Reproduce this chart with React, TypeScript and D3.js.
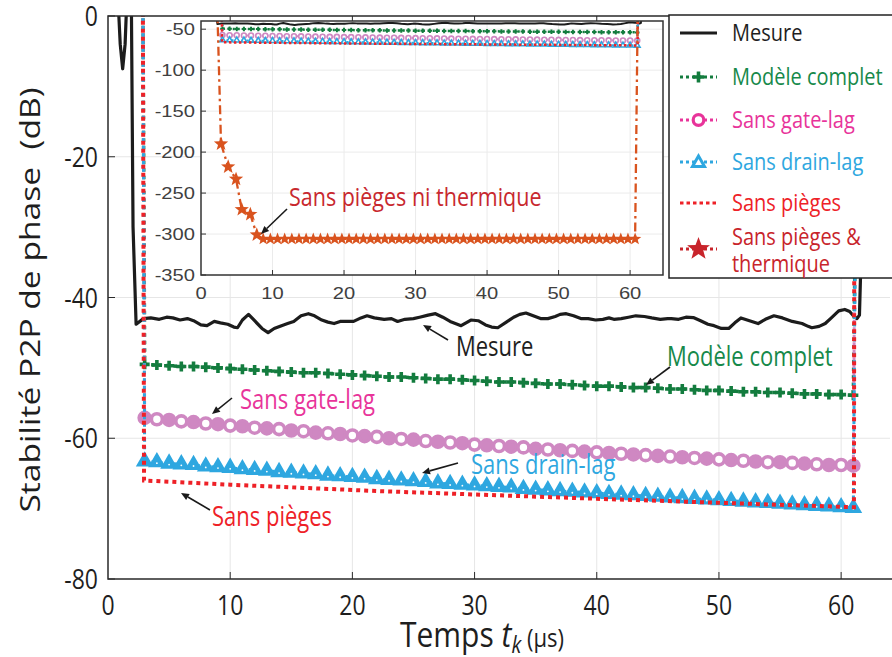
import React from 'react';
import * as d3 from 'd3';

const W = 892, H = 657;

const MAIN_X_TICKS = [0, 10, 20, 30, 40, 50, 60];
const MAIN_Y_TICKS = [0, -20, -40, -60, -80];
const INSET_X_TICKS = [0, 10, 20, 30, 40, 50, 60];
const INSET_Y_TICKS = [-50, -100, -150, -200, -250, -300, -350];

// Mesure: [t (µs), dB]
const MESURE: [number, number][] = [
  [0.75, 5], [1.0, -4], [1.2, -7.5], [1.4, -4], [1.6, 5], [1.9, 5], [2.05, -30], [2.3, -43.8],
  [2.9, -43.0], [3.5, -42.9], [4.2, -43.1], [4.8, -42.8], [5.3, -42.9], [5.9, -43.2], [6.5, -43.0],
  [7.0, -43.3], [7.6, -43.9], [8.1, -44.0], [8.7, -43.4], [9.2, -43.6], [9.8, -43.8], [10.3, -44.2],
  [10.6, -44.3], [11.0, -43.2], [11.5, -42.4], [12.0, -43.3], [12.6, -44.4], [13.1, -45.0], [13.6, -44.4],
  [14.2, -44.0], [14.7, -43.7], [15.2, -43.4], [15.8, -42.6], [16.4, -42.3], [16.9, -42.6], [17.5, -43.2],
  [18.0, -43.5], [18.5, -43.7], [19.0, -43.4], [19.6, -43.4], [20.1, -43.4], [20.7, -42.9], [21.2, -42.6],
  [21.8, -42.9], [22.6, -43.1], [23.2, -43.0], [23.7, -43.4], [24.3, -43.1], [25.0, -43.0], [25.5, -42.8],
  [26.2, -42.5], [26.8, -42.3], [27.4, -42.8], [28.0, -43.4], [28.9, -44.0], [29.3, -43.6], [29.7, -43.2],
  [30.3, -43.3], [30.9, -43.9], [31.4, -44.2], [31.9, -44.3], [32.6, -43.5], [33.2, -42.8], [33.7, -42.4],
  [34.2, -42.2], [34.8, -42.6], [35.4, -43.0], [36.0, -43.0], [36.6, -42.7], [37.0, -42.4], [37.5, -42.3],
  [38.1, -42.6], [38.7, -43.0], [39.3, -43.0], [39.9, -43.2], [40.5, -43.1], [41.0, -42.9], [41.4, -43.1],
  [42.0, -43.0], [42.6, -42.8], [43.2, -42.6], [43.9, -42.7], [44.5, -42.9], [45.2, -43.1], [45.8, -43.0],
  [46.1, -43.0], [46.7, -43.1], [47.3, -42.8], [47.9, -42.85], [48.5, -43.3], [49.1, -43.8], [49.6, -44.0],
  [50.2, -44.4], [50.8, -44.4], [51.3, -43.6], [51.8, -42.9], [52.5, -43.3], [53.2, -43.7], [53.8, -43.1],
  [54.5, -42.6], [55.2, -42.9], [56.0, -43.4], [56.8, -43.7], [57.3, -44.1], [57.6, -44.3], [58.2, -44.1],
  [58.7, -43.7], [59.2, -42.9], [59.8, -41.9], [60.3, -41.7], [60.7, -42.0], [61.0, -42.6], [61.3, -43.0],
  [61.5, -42.5], [61.7, -30], [61.8, 5],
];

// model series sampled at these instants (µs)
const MODEL_T = [3, 4, 5, 6, 7, 8, 9, 10, 11, 12, 13, 14, 15, 16, 17, 18, 19, 20, 21, 22, 23, 24, 25, 26, 27, 28, 29, 30,
  31, 32, 33, 34, 35, 36, 37, 38, 39, 40, 41, 42, 43, 44, 45, 46, 47, 48, 49, 50, 51, 52, 53, 54, 55, 56, 57, 58, 59, 60, 61];

const COMPLET_V = [-49.5, -49.6, -49.7, -49.8, -49.8, -49.9, -50.0, -50.1, -50.2, -50.3, -50.4, -50.5, -50.6, -50.7,
  -50.7, -50.8, -50.9, -51.0, -51.1, -51.2, -51.3, -51.3, -51.4, -51.5, -51.6, -51.6, -51.7, -51.8, -51.9, -52.0,
  -52.0, -52.1, -52.2, -52.3, -52.3, -52.4, -52.5, -52.6, -52.6, -52.7, -52.8, -52.8, -52.9, -53.0, -53.0, -53.1,
  -53.2, -53.2, -53.3, -53.4, -53.4, -53.5, -53.5, -53.6, -53.7, -53.7, -53.8, -53.8, -53.9];

const GATE_V = [-57.1, -57.3, -57.4, -57.6, -57.7, -57.9, -58.0, -58.2, -58.3, -58.5, -58.6, -58.7, -58.9, -59.0,
  -59.2, -59.3, -59.4, -59.6, -59.7, -59.8, -60.0, -60.1, -60.2, -60.4, -60.5, -60.6, -60.7, -60.9, -61.0, -61.1,
  -61.2, -61.3, -61.5, -61.6, -61.7, -61.8, -61.9, -62.0, -62.1, -62.2, -62.3, -62.4, -62.5, -62.6, -62.7, -62.8,
  -62.9, -63.0, -63.1, -63.2, -63.3, -63.4, -63.4, -63.5, -63.6, -63.7, -63.8, -63.8, -63.9];

const DRAIN_V = [-63.3, -63.4, -63.6, -63.7, -63.8, -64.0, -64.1, -64.2, -64.4, -64.5, -64.6, -64.8, -64.9, -65.0,
  -65.1, -65.3, -65.4, -65.5, -65.6, -65.8, -65.9, -66.0, -66.1, -66.2, -66.4, -66.5, -66.6, -66.7, -66.8, -66.9,
  -67.0, -67.2, -67.3, -67.4, -67.5, -67.6, -67.7, -67.8, -67.9, -68.0, -68.1, -68.2, -68.3, -68.4, -68.5, -68.6,
  -68.7, -68.8, -68.9, -69.0, -69.1, -69.2, -69.3, -69.4, -69.5, -69.6, -69.7, -69.8, -69.9];

// off-scale entry / exit of the model traces (start and end of the pulse)
const LEAD_T = 2.85;
const OFF_V = 5;
const COMPLET_END_T = 61.4;
const GATE_END_T = 61.25;
const DRAIN_END_T = 61.3;

const PIEGES_T = [2.85, 2.95, 10, 22, 40, 61.05, 61.1];
const PIEGES_V = [5, -66.0, -66.6, -67.5, -68.6, -69.8, 5];

const THERM_T = [2.2, 2.8, 3.8, 4.9, 5.7, 6.9, 7.8,
  8.7, 9.7, 10.7, 11.7, 12.7, 13.7, 14.7, 15.7, 16.7, 17.7, 18.7, 19.7, 20.7, 21.7, 22.7, 23.7, 24.7, 25.7, 26.7,
  27.7, 28.7, 29.7, 30.7, 31.7, 32.7, 33.7, 34.7, 35.7, 36.7, 37.7, 38.7, 39.7, 40.7, 41.7, 42.7, 43.7, 44.7, 45.7,
  46.7, 47.7, 48.7, 49.7, 50.7, 51.7, 52.7, 53.7, 54.7, 55.7, 56.7, 57.7, 58.7, 59.7, 60.7, 61.1];
const THERM_V = [0, -190, -218, -233, -270, -276, -301,
  -306, -306, -306, -306, -306, -306, -306, -306, -306, -306, -306, -306, -306, -306, -306, -306, -306, -306, -306,
  -306, -306, -306, -306, -306, -306, -306, -306, -306, -306, -306, -306, -306, -306, -306, -306, -306, -306, -306,
  -306, -306, -306, -306, -306, -306, -306, -306, -306, -306, -306, -306, -306, -306, -306, 0];

const LEGEND = ['Mesure', 'Modèle complet', 'Sans gate-lag', 'Sans drain-lag', 'Sans pièges'];

const C_MES = '#1c1c1c';
const C_GREEN = '#137c3e';
const C_GREEN_T = '#16894a';
const C_PINK = '#cf88c2';
const C_PINK_T = '#e8349a';
const C_BLUE = '#2ea7e0';
const C_RED = '#ee2127';
const C_STAR = '#d9531e';
const C_STAR_L = '#c8242b';

const FONT = "'Open Sans', 'Noto Sans', sans-serif";
const AX_FONT = "'Liberation Sans', Arial, sans-serif";

type Pt = [number, number];

function zipPts(ts: number[], vs: number[]): Pt[] {
  return ts.map((t, i) => [t, vs[i]] as Pt);
}

function plusPath(cx: number, cy: number, a: number) {
  return `M${cx - a},${cy}H${cx + a}M${cx},${cy - a}V${cy + a}`;
}
function triPath(cx: number, cy: number, s: number) {
  const h = s * 0.866;
  return `M${cx},${cy - (2 * h) / 3}L${cx - s / 2},${cy + h / 3}L${cx + s / 2},${cy + h / 3}Z`;
}
function starPath(cx: number, cy: number, R: number) {
  const r = R * 0.42;
  const pts: string[] = [];
  for (let i = 0; i < 10; i++) {
    const ang = -Math.PI / 2 + (i * Math.PI) / 5;
    const rr = i % 2 === 0 ? R : r;
    pts.push(`${cx + rr * Math.cos(ang)},${cy + rr * Math.sin(ang)}`);
  }
  return 'M' + pts.join('L') + 'Z';
}

function T(props: {
  x: number; y: number; size: number; fill?: string; anchor?: string; sx?: number; sy?: number;
  family?: string; children: React.ReactNode;
}) {
  const { x, y, size, fill = '#222', anchor = 'start', sx = 1, sy = 1.2, family = FONT, children } = props;
  return (
    <text transform={`translate(${x},${y}) scale(${sx},${sy})`} fontSize={size} fill={fill}
      textAnchor={anchor} fontFamily={family}>{children}</text>
  );
}

function Arrow({ x1, y1, x2, y2 }: { x1: number; y1: number; x2: number; y2: number }) {
  const ang = Math.atan2(y2 - y1, x2 - x1);
  const L = 8, Wd = 3.5;
  const bx = x2 - L * Math.cos(ang), by = y2 - L * Math.sin(ang);
  const px = -Math.sin(ang) * Wd, py = Math.cos(ang) * Wd;
  return (
    <g>
      <line x1={x1} y1={y1} x2={bx} y2={by} stroke="#1a1a1a" strokeWidth={1.6} />
      <path d={`M${x2},${y2}L${bx + px},${by + py}L${bx - px},${by - py}Z`} fill="#1a1a1a" />
    </g>
  );
}

function Series({ x, y, inset }: { x: d3.ScaleLinear<number, number>; y: d3.ScaleLinear<number, number>; inset: boolean }) {
  const line = d3.line<Pt>().x(d => x(d[0])).y(d => y(d[1]));
  const k = inset ? 0.45 : 1;
  const mes = MESURE;
  const complet = [[LEAD_T, OFF_V] as Pt, ...zipPts(MODEL_T, COMPLET_V), [COMPLET_END_T, OFF_V] as Pt];
  const gate = [[LEAD_T, OFF_V] as Pt, ...zipPts(MODEL_T, GATE_V), [GATE_END_T, OFF_V] as Pt];
  const drain = [[LEAD_T, OFF_V] as Pt, ...zipPts(MODEL_T, DRAIN_V), [DRAIN_END_T, OFF_V] as Pt];
  const pieges = zipPts(PIEGES_T, PIEGES_V);
  const therm = zipPts(THERM_T, THERM_V);
  return (
    <g>
      <path d={line(mes) || ''} fill="none" stroke={C_MES} strokeWidth={inset ? 2 : 3.2} strokeLinejoin="round" />
      <path d={line(complet) || ''} fill="none" stroke={C_GREEN} strokeWidth={inset ? 2.5 : 3.5}
        strokeDasharray={inset ? '2,3' : '3.5,4'} />
      {MODEL_T.map((t, i) => (
        <path key={'c' + i} d={plusPath(x(t), y(COMPLET_V[i]), 5 * k)} stroke={C_GREEN}
          strokeWidth={inset ? 2 : 3.6} />
      ))}
      <path d={line(gate) || ''} fill="none" stroke={C_PINK} strokeWidth={inset ? 2 : 3}
        strokeDasharray={inset ? '2,3' : '3.5,4'} />
      {MODEL_T.map((t, i) => (
        <circle key={'g' + i} cx={x(t)} cy={y(GATE_V[i])} r={5.5 * k} fill={i % 2 === 0 && !inset ? C_PINK : '#fff'}
          stroke={C_PINK} strokeWidth={inset ? 1.6 : 3.6} />
      ))}
      <path d={line(drain) || ''} fill="none" stroke={C_BLUE} strokeWidth={inset ? 2 : 3}
        strokeDasharray={inset ? '2,3' : '3.5,4'} />
      {MODEL_T.map((t, i) => (
        <path key={'d' + i} d={triPath(x(t), y(DRAIN_V[i]), 12.5 * k)} fill={inset ? '#fff' : C_BLUE} stroke={C_BLUE}
          strokeWidth={inset ? 1.6 : 3} strokeLinejoin="miter" />
      ))}
      {!inset && MODEL_T.map((t, i) => (
        <circle key={'dw' + i} cx={x(t)} cy={y(DRAIN_V[i]) + 1} r={0.9} fill="#fff" />
      ))}
      <path d={line(pieges) || ''} fill="none" stroke={C_RED} strokeWidth={inset ? 2.5 : 4}
        strokeDasharray={inset ? '2.5,2.5' : '4,4'} />
      {inset && (
        <g>
          <path d={line(therm) || ''} fill="none" stroke={C_STAR} strokeWidth={2.3} strokeDasharray="9,4,2.5,4" />
          {THERM_T.map((t, i) => (i === 0 || i === THERM_T.length - 1 ? null : (
            <path key={'s' + i} d={starPath(x(t), y(THERM_V[i]), i < 7 ? 7.5 : 6.5)} fill={C_STAR} />
          )))}
        </g>
      )}
    </g>
  );
}

export default function App() {
  const ML = 108, MR = 890, MT = 16, MB = 579;
  const x = d3.scaleLinear().domain([0, 64]).range([ML, MR]);
  const y = d3.scaleLinear().domain([-80, 0]).range([MB, MT]);

  const IL = 201, IR = 663, IT = 21, IB = 275;
  const xi = d3.scaleLinear().domain([0, 64.6]).range([IL, IR]);
  const yi = d3.scaleLinear().domain([-350, -40]).range([IB, IT]);

  const grid = '#e6e6e6';
  const axc = '#2a2a2a';

  const LX = 669, LT = 15, LB = 278;
  const rows = [33, 77, 120, 162, 203];

  return (
    <svg width={W} height={H} style={{ position: 'absolute', left: 0, top: 0, background: '#fff' }}>
      <defs>
        <clipPath id="mainclip"><rect x={ML} y={MT} width={MR - ML} height={MB - MT} /></clipPath>
        <clipPath id="insetclip"><rect x={IL} y={IT} width={IR - IL} height={IB - IT} /></clipPath>
      </defs>
      <rect x={0} y={0} width={W} height={H} fill="#fff" />

      {/* main grid */}
      {MAIN_X_TICKS.filter(t => t > 0).map(t => (
        <line key={'gx' + t} x1={x(t)} x2={x(t)} y1={MT} y2={MB} stroke={grid} strokeWidth={1} />
      ))}
      {MAIN_Y_TICKS.filter(t => t > -80 && t < 0).map(t => (
        <line key={'gy' + t} x1={ML} x2={MR} y1={y(t)} y2={y(t)} stroke={grid} strokeWidth={1} />
      ))}

      <g clipPath="url(#mainclip)">
        <Series x={x} y={y} inset={false} />
      </g>

      {/* main frame and ticks */}
      <path d={`M${MR + 10},${MT}H${ML}V${MB}H${MR + 10}`} fill="none" stroke={axc} strokeWidth={1.5} />
      {MAIN_X_TICKS.filter(t => t > 0).map(t => (
        <g key={'tx' + t}>
          <line x1={x(t)} x2={x(t)} y1={MB} y2={MB - 7} stroke={axc} strokeWidth={1} />
          <line x1={x(t)} x2={x(t)} y1={MT} y2={MT + 7} stroke={axc} strokeWidth={1} />
        </g>
      ))}
      {MAIN_Y_TICKS.map(t => (
        <line key={'ty' + t} x1={ML} x2={ML + 7} y1={y(t)} y2={y(t)} stroke={axc} strokeWidth={1} />
      ))}
      {MAIN_X_TICKS.map(t => (
        <T key={'lx' + t} x={x(t)} y={615} size={23} anchor="middle" fill="#1e1e1e">{String(t)}</T>
      ))}
      {MAIN_Y_TICKS.map(t => (
        <T key={'ly' + t} x={98} y={y(t) + 10} size={23} anchor="end" fill="#1e1e1e">{String(t)}</T>
      ))}

      {/* axis titles */}
      <text transform="translate(400,647) scale(1,1.18)" fontFamily={FONT} fill="#1e1e1e" fontSize={30}>
        <tspan>Temps </tspan>
        <tspan fontStyle="italic">t</tspan>
        <tspan fontStyle="italic" fontSize={20} dy={5}>k</tspan>
        <tspan fontSize={22} dy={-5}> (µs)</tspan>
      </text>
      <text transform="translate(40,300) rotate(-90) scale(1.2,1)" fontFamily={FONT} fill="#1e1e1e"
        fontSize={28} textAnchor="middle">{'Stabilité P2P de phase\u00A0\u00A0(dB)'}</text>

      {/* annotations */}
      <T x={456} y={356} size={22} fill="#1e1e1e">Mesure</T>
      <Arrow x1={448} y1={340} x2={423} y2={325} />
      <T x={667} y={366} size={22} fill={C_GREEN_T}>Modèle complet</T>
      <Arrow x1={670} y1={367} x2={646} y2={385} />
      <T x={240} y={409} size={22} fill={C_PINK_T}>Sans gate-lag</T>
      <Arrow x1={232} y1={398} x2={212} y2={414} />
      <T x={471} y={474} size={22} fill={C_BLUE}>Sans drain-lag</T>
      <Arrow x1={458} y1={463} x2={422} y2={473} />
      <T x={212} y={526} size={22} fill={C_RED}>Sans pièges</T>
      <Arrow x1={210} y1={510} x2={181} y2={493} />

      {/* inset */}
      <rect x={IL} y={IT} width={IR - IL} height={IB - IT} fill="#fff" />
      {INSET_X_TICKS.filter(t => t > 0).map(t => (
        <line key={'igx' + t} x1={xi(t)} x2={xi(t)} y1={IT} y2={IB} stroke="#ebebeb" strokeWidth={1} />
      ))}
      {INSET_Y_TICKS.filter(t => t > -350).map(t => (
        <line key={'igy' + t} x1={IL} x2={IR} y1={yi(t)} y2={yi(t)} stroke="#ebebeb" strokeWidth={1} />
      ))}
      <g clipPath="url(#insetclip)">
        <Series x={xi} y={yi} inset={true} />
      </g>
      <rect x={IL} y={IT} width={IR - IL} height={IB - IT} fill="none" stroke="#333" strokeWidth={1.5} />
      {INSET_X_TICKS.filter(t => t > 0).map(t => (
        <line key={'itx' + t} x1={xi(t)} x2={xi(t)} y1={IB} y2={IB - 5} stroke="#333" strokeWidth={1} />
      ))}
      {INSET_Y_TICKS.map(t => (
        <line key={'ity' + t} x1={IL} x2={IL + 5} y1={yi(t)} y2={yi(t)} stroke="#333" strokeWidth={1} />
      ))}
      {INSET_X_TICKS.map(t => (
        <T key={'ilx' + t} x={xi(t)} y={299} size={18} sx={1.12} sy={0.95} anchor="middle" fill="#404040"
          family={AX_FONT}>{String(t)}</T>
      ))}
      {INSET_Y_TICKS.map(t => (
        <T key={'ily' + t} x={195} y={yi(t) + 6} size={18} sx={1.12} sy={0.95} anchor="end" fill="#404040"
          family={AX_FONT}>{String(t)}</T>
      ))}
      <T x={289} y={206} size={21.5} fill="#c8282e">Sans pièges ni thermique</T>
      <Arrow x1={287} y1={209} x2={261} y2={234} />

      {/* legend */}
      <rect x={LX} y={LT} width={W - LX + 10} height={LB - LT} fill="#fff" stroke="#222" strokeWidth={1.5} />
      <line x1={680} x2={717} y1={rows[0]} y2={rows[0]} stroke={C_MES} strokeWidth={3} />
      <line x1={680} x2={717} y1={rows[1]} y2={rows[1]} stroke={C_GREEN} strokeWidth={3} strokeDasharray="3,3" />
      <path d={plusPath(698.5, rows[1], 5.5)} stroke={C_GREEN} strokeWidth={3.6} />
      <line x1={680} x2={717} y1={rows[2]} y2={rows[2]} stroke={C_PINK_T} strokeWidth={3} strokeDasharray="3,3" />
      <circle cx={698.5} cy={rows[2]} r={5.3} fill="#fff" stroke={C_PINK_T} strokeWidth={3.2} />
      <line x1={680} x2={717} y1={rows[3]} y2={rows[3]} stroke={C_BLUE} strokeWidth={3} strokeDasharray="3,3" />
      <path d={triPath(698.5, rows[3] + 1, 12)} fill="#fff" stroke={C_BLUE} strokeWidth={3} />
      <line x1={680} x2={717} y1={rows[4]} y2={rows[4]} stroke={C_RED} strokeWidth={3} strokeDasharray="3.5,3" />
      <line x1={680} x2={717} y1={249} y2={249} stroke={C_STAR_L} strokeWidth={3} strokeDasharray="3,3" />
      <path d={starPath(698.5, 249, 12)} fill={C_STAR_L} />
      <T x={732} y={rows[0] + 8} size={20} fill="#1e1e1e">{LEGEND[0]}</T>
      <T x={732} y={rows[1] + 8} size={20} fill={C_GREEN_T}>{LEGEND[1]}</T>
      <T x={732} y={rows[2] + 8} size={20} fill={C_PINK_T}>{LEGEND[2]}</T>
      <T x={732} y={rows[3] + 8} size={20} fill={C_BLUE}>{LEGEND[3]}</T>
      <T x={732} y={rows[4] + 8} size={20} fill={C_RED}>{LEGEND[4]}</T>
      <T x={732} y={245} size={20} fill={C_STAR_L}>Sans pièges &amp;</T>
      <T x={732} y={272} size={20} fill={C_STAR_L}>thermique</T>
    </svg>
  );
}
